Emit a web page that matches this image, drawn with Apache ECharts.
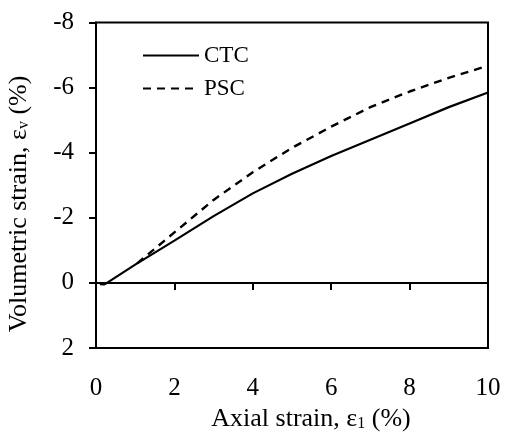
<!DOCTYPE html>
<html>
<head>
<meta charset="utf-8">
<script src="https://cdn.jsdelivr.net/npm/echarts@6/dist/echarts.min.js"></script>
<style>
html,body{margin:0;padding:0;background:#fff;}
#c{width:505px;height:433px;}
</style>
</head>
<body>
<div id="c"></div>
<script>
const xTicks = [0, 2, 4, 6, 8, 10];
const yTicks = [-8, -6, -4, -2, 0, 2];
const ctcX = [0.1, 0.2, 0.28, 1, 2, 3, 4, 5, 6, 7, 8, 9, 10];
const ctcY = [0.04, 0.05, 0, -0.56, -1.3, -2.05, -2.75, -3.35, -3.9, -4.4, -4.9, -5.4, -5.85];
const pscX = [1.05, 2, 3, 4, 5, 6, 7, 8, 9, 10];
const pscY = [-0.6, -1.55, -2.55, -3.4, -4.15, -4.8, -5.4, -5.88, -6.3, -6.67];
const seriesNames = ['CTC', 'PSC'];

const FONT = 'Liberation Serif';
const chart = echarts.init(document.getElementById('c'), null, {renderer: 'canvas'});
const zip = (xs, ys) => xs.map((x, i) => [x, ys[i]]);

chart.setOption({
  backgroundColor: '#fff',
  animation: false,
  grid: {left: 96, top: 22.5, right: 17, bottom: 85, show: true, borderColor: '#000', borderWidth: 2, backgroundColor: 'transparent'},
  legend: {
    orient: 'vertical', left: 142, top: 44, padding: 0, itemWidth: 56, itemHeight: 14, itemGap: 10,
    data: seriesNames,
    itemStyle: {opacity: 0},
    textStyle: {fontFamily: FONT, fontSize: 23, color: '#000'}
  },
  xAxis: [
    {
      type: 'value', min: xTicks[0], max: xTicks[xTicks.length - 1], interval: 2, position: 'bottom',
      axisLine: {onZero: true, lineStyle: {color: '#000', width: 2}},
      axisTick: {show: true, inside: false, length: 7, lineStyle: {color: '#000', width: 2}},
      axisLabel: {show: false}, splitLine: {show: false}
    },
    {
      type: 'value', min: xTicks[0], max: xTicks[xTicks.length - 1], interval: 2, position: 'bottom',
      axisLine: {onZero: false, show: true, lineStyle: {color: '#000', width: 2}},
      axisTick: {show: false},
      axisLabel: {show: true, margin: 28, fontFamily: FONT, fontSize: 25, color: '#000'},
      splitLine: {show: false}
    }
  ],
  yAxis: {
    type: 'value', inverse: true, min: yTicks[0], max: yTicks[yTicks.length - 1], interval: 2,
    axisLine: {show: true, onZero: false, lineStyle: {color: '#000', width: 2}},
    axisTick: {show: true, inside: false, length: 7, lineStyle: {color: '#000', width: 2}},
    axisLabel: {margin: 22, fontFamily: FONT, fontSize: 25, color: '#000'},
    splitLine: {show: false}
  },
  graphic: [
    {
      type: 'text', x: 311, y: 419, z: 10,
      style: {
        text: '{a|Axial strain, ε}{s|1}{a| (%)}',
        align: 'center', verticalAlign: 'middle',
        rich: {
          a: {fontFamily: FONT, fontSize: 26, fill: '#000'},
          s: {fontFamily: FONT, fontSize: 16, fill: '#000', padding: [10, 0, 0, 0]}
        }
      }
    },
    {
      type: 'text', x: 19, y: 204, rotation: Math.PI / 2, z: 10,
      style: {
        text: '{a|Volumetric strain, ε}{s|v}{a| (%)}',
        align: 'center', verticalAlign: 'middle',
        rich: {
          a: {fontFamily: FONT, fontSize: 26, fill: '#000'},
          s: {fontFamily: FONT, fontSize: 16, fill: '#000', padding: [10, 0, 0, 0]}
        }
      }
    }
  ],
  series: [
    {
      name: seriesNames[0], type: 'line', xAxisIndex: 0, symbol: 'none',
      data: zip(ctcX, ctcY),
      lineStyle: {color: '#000', width: 2.2, type: 'solid'},
      itemStyle: {color: '#000'}
    },
    {
      name: seriesNames[1], type: 'line', xAxisIndex: 0, symbol: 'none',
      data: zip(pscX, pscY),
      lineStyle: {color: '#000', width: 2.4, type: [8, 6]},
      itemStyle: {color: '#000'}
    }
  ]
});
</script>
</body>
</html>
